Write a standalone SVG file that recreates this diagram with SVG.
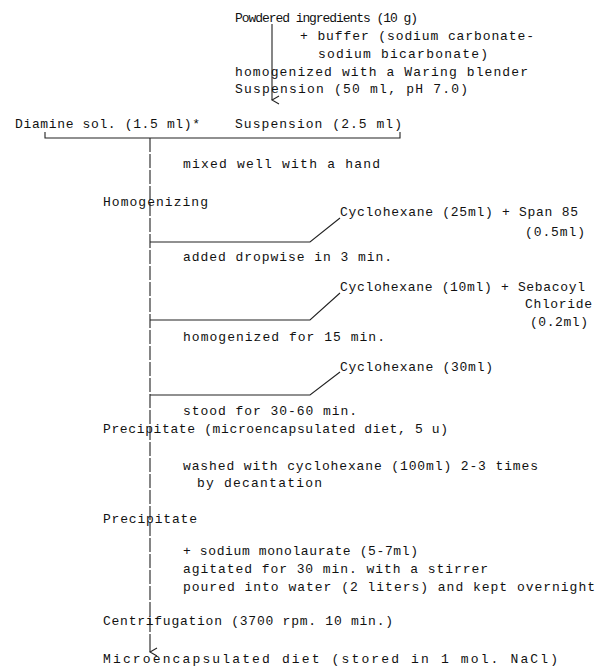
<svg xmlns="http://www.w3.org/2000/svg" width="600" height="672" viewBox="0 0 600 672">
<style>
text{font-family:"Liberation Mono",monospace;font-size:13px;fill:#111}
.l{stroke:#222;stroke-width:1.1;fill:none}
</style>
<defs><marker id="a" markerWidth="10" markerHeight="10" refX="5" refY="9" orient="auto" markerUnits="userSpaceOnUse"><path d="M1,2 L5,9 L9,2" fill="none" stroke="#222" stroke-width="1.1"/></marker></defs>
<rect width="600" height="672" fill="#fff"/>
<g id="connectors">
<path class="l" d="M272,24 V100" marker-end="url(#a)"/>
<path class="l" d="M45,132 V138 H400 V132"/>
<path class="l" d="M150,138 V640" stroke-dasharray="14,2"/>
<path class="l" d="M150,640 V652" marker-end="url(#a)"/>
<path class="l" d="M150,242 H310 L340,218"/>
<path class="l" d="M150,320 H310 L340,293"/>
<path class="l" d="M150,395 H310 L340,372"/>
</g>
<g id="n1"><text x="235" y="22" textLength="183">Powdered ingredients (10 g)</text>
<text x="300" y="40" textLength="234">+ buffer (sodium carbonate-</text>
<text x="318" y="58" textLength="170">sodium bicarbonate)</text>
<text x="235" y="76" textLength="293">homogenized with a Waring blender</text>
<text x="235" y="93" textLength="233">Suspension (50 ml, pH 7.0)</text></g>
<g id="n2"><text x="15" y="128" textLength="185">Diamine sol. (1.5 ml)*</text>
<text x="235" y="128" textLength="167">Suspension (2.5 ml)</text></g>
<g id="n3"><text x="183" y="168" textLength="197">mixed well with a hand</text></g>
<g id="n4"><text x="103" y="206" textLength="105">Homogenizing</text></g>
<g id="n5"><text x="340" y="216" textLength="238">Cyclohexane (25ml) + Span 85</text>
<text x="525" y="236" textLength="60">(0.5ml)</text>
<text x="183" y="261" textLength="209">added dropwise in 3 min.</text></g>
<g id="n6"><text x="340" y="291" textLength="245">Cyclohexane (10ml) + Sebacoyl</text>
<text x="525" y="308" textLength="67">Chloride</text>
<text x="530" y="326" textLength="58">(0.2ml)</text>
<text x="183" y="341" textLength="202">homogenized for 15 min.</text></g>
<g id="n7"><text x="340" y="371" textLength="153">Cyclohexane (30ml)</text>
<text x="183" y="415" textLength="174">stood for 30-60 min.</text></g>
<g id="n8"><text x="103" y="433" textLength="345">Precipitate (microencapsulated diet, 5 u)</text>
<text x="183" y="470" textLength="355">washed with cyclohexane (100ml) 2-3 times</text>
<text x="197" y="487" textLength="125">by decantation</text></g>
<g id="n9"><text x="103" y="523" textLength="94">Precipitate</text>
<text x="183" y="555" textLength="235">+ sodium monolaurate (5-7ml)</text>
<text x="183" y="573" textLength="305">agitated for 30 min. with a stirrer</text>
<text x="183" y="591" textLength="412">poured into water (2 liters) and kept overnight</text></g>
<g id="n10"><text x="103" y="625" textLength="290">Centrifugation (3700 rpm. 10 min.)</text></g>
<g id="n11"><text x="103" y="663" textLength="455">Microencapsulated diet (stored in 1 mol. NaCl)</text></g>
</svg>
